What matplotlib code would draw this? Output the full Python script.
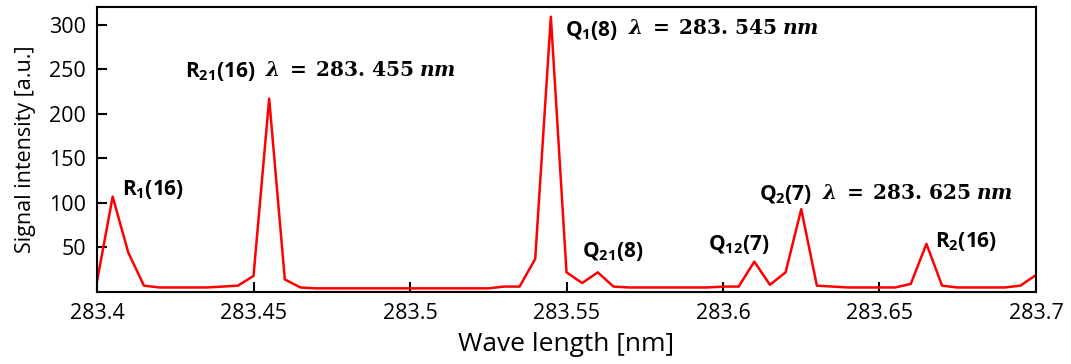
import numpy as np
from matplotlib import pyplot as plt

plt.rcParams['font.family'] = ['Open Sans', 'DejaVu Sans']
plt.rcParams['mathtext.fontset'] = 'custom'
plt.rcParams['mathtext.rm'] = 'Open Sans'
plt.rcParams['mathtext.bf'] = 'Open Sans:bold'
plt.rcParams['mathtext.sf'] = 'DejaVu Serif:bold'
plt.rcParams['mathtext.bfit'] = 'DejaVu Serif:italic:bold'

# 데이터
wavelength = np.round(np.arange(283.400, 283.7001, 0.005), 3)
intensity = [12, 107, 44, 7, 5, 5, 5, 5, 6, 7, 18, 217, 14, 5, 4,
             4, 4, 4, 4, 4, 4, 4, 4, 4, 4, 4, 6, 6, 37, 309, 22,
             10, 22, 6, 5, 5, 5, 5, 5, 5, 6, 6, 34, 8, 22, 93,
             7, 6, 5, 5, 5, 5, 9, 54, 7, 5, 5, 5, 5, 7, 19]
xtick_pos = [283.4, 283.45, 283.5, 283.55, 283.6, 283.65, 283.7]
xtick_labels = ['283.4', '283.45', '283.5', '283.55', '283.6', '283.65', '283.7']
ytick_pos = [50, 100, 150, 200, 250, 300]

# 라벨 (텍스트, 파장 표기, x, y)
peak_labels = [
    (r'$\mathbf{R_{1}(16)}$', None, 283.408, 115),
    (r'$\mathbf{R_{21}(16)}$', '283.455', 283.428, 247),
    (r'$\mathbf{Q_{1}(8)}$', '283.545', 283.5495, 294),
    (r'$\mathbf{Q_{21}(8)}$', None, 283.555, 45),
    (r'$\mathbf{Q_{12}(7)}$', None, 283.5952, 53),
    (r'$\mathbf{Q_{2}(7)}$', '283.625', 283.6115, 109),
    (r'$\mathbf{R_{2}(16)}$', None, 283.6677, 57),
]

fig = plt.figure(figsize=(10.71, 3.64), dpi=100)
ax = fig.add_axes([0.0906, 0.198, 0.8767, 0.783])

ax.plot(wavelength, intensity, color='#ff0000', linewidth=1.8)

for txt, lam, x, y in peak_labels:
    t = ax.text(x, y, txt, fontsize=15, va='center', ha='left')
    if lam:
        a, b = lam.split('.')
        s = r'$\mathbfit{λ}\;\mathsf{=}\;\mathsf{' + a + r'.\,' + b + r'}\;\mathbfit{nm}$'
        ax.annotate(s, xy=(1, 0.55), xycoords=t, xytext=(7, 0),
                    textcoords='offset points', fontsize=14.5, va='center', ha='left')

ax.set_xlim(283.4, 283.7)
ax.set_ylim(0, 320)
ax.set_xticks(xtick_pos)
ax.set_xticklabels(xtick_labels)
ax.set_yticks(ytick_pos)
ax.tick_params(direction='in', length=7, width=1.5, labelsize=15.5, pad=8)
for s in ax.spines.values():
    s.set_linewidth(1.5)

ax.set_xlabel('Wave length [nm]', fontsize=19, labelpad=6)
ax.set_ylabel('Signal intensity [a.u.]', fontsize=15.5, labelpad=9)

plt.savefig('out.png', dpi=100)
